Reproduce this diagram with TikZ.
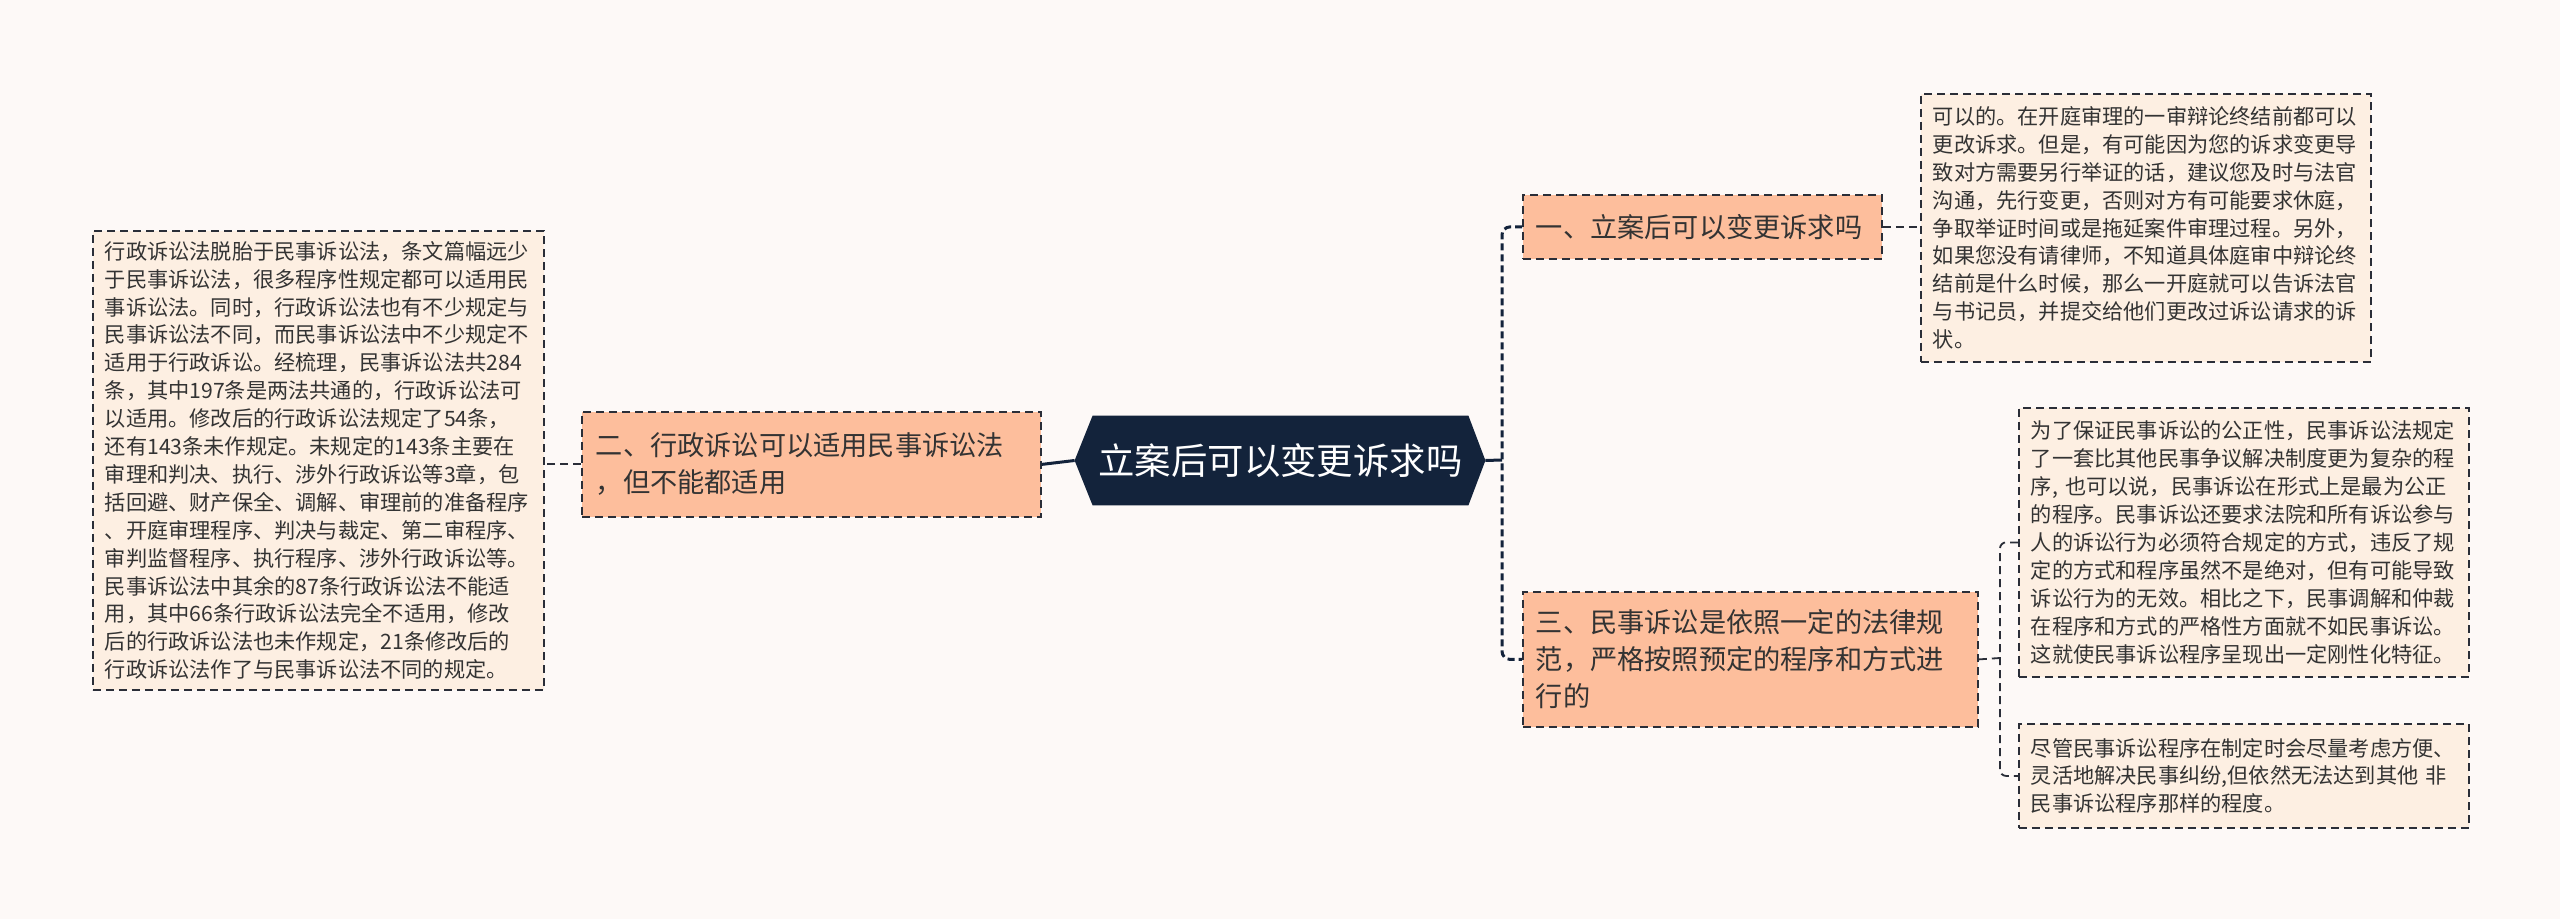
\documentclass[tikz,border=0pt]{standalone}
\usepackage{fontspec}
\setmainfont{Noto Sans CJK SC}
\usetikzlibrary{calc}
\definecolor{bgC}{HTML}{FDF9F7}
\definecolor{peachC}{HTML}{FDBE9C}
\definecolor{boxC}{HTML}{FDEFE2}
\definecolor{lineC}{HTML}{2A2E38}
\definecolor{navyC}{HTML}{13233B}
\definecolor{txtC}{HTML}{333333}
\pgfdeclarelayer{background}
\pgfsetlayers{background,main}
\tikzset{
  x=0.5pt, y=-0.5pt,
  tbox/.style={rectangle, draw=lineC, dash pattern=on 4pt off 2.5pt, line width=0.9pt,
    fill=boxC, text=txtC, font=\fontsize{10.6pt}{13.95pt}\selectfont, align=left,
    anchor=north west, inner xsep=6pt, inner ysep=0pt},
  topic/.style={rectangle, draw=lineC, dash pattern=on 4pt off 2.5pt, line width=0.9pt,
    fill=peachC, text=txtC, font=\fontsize{13.6pt}{18.6pt}\selectfont, align=left,
    anchor=north west, inner xsep=6.5pt, inner ysep=0pt},
  dconn/.style={draw=lineC, line width=0.9pt, dash pattern=on 4pt off 2.5pt},
  trunk/.style={draw=navyC, line width=1.5pt, dash pattern=on 3.5pt off 2pt},
  sconn/.style={draw=navyC, line width=1.5pt},
}
\begin{document}
\begin{tikzpicture}
\useasboundingbox (0,0) rectangle (2560,919);
\begin{pgfonlayer}{background}
\fill[bgC] (0,0) rectangle (2560,919);
\end{pgfonlayer}

% central node
\node[rectangle, minimum width=187.5pt, minimum height=44.5pt, inner sep=0pt,
  text=white, font=\fontsize{18.2pt}{22pt}\selectfont] (c) at (1280.5,460.5) {立案后可以变更诉求吗};
\coordinate (cW) at ([xshift=-9pt]c.west);
\coordinate (cE) at ([xshift=8.5pt]c.east);
\begin{pgfonlayer}{background}
\fill[navyC] (c.north west) -- (c.north east) -- (cE) -- (c.south east) -- (c.south west) -- (cW) -- cycle;
\end{pgfonlayer}

% left side
\node[topic, text width=215.5pt, minimum height=52.5pt, inner xsep=7pt] (n2) at (581,411)
 {二、行政诉讼可以适用民事诉讼法\\，但不能都适用};
\node[tbox, text width=213.5pt, minimum height=229.5pt] (tl) at (92,230)
 {行政诉讼法脱胎于民事诉讼法，条文篇幅远少\\
于民事诉讼法，很多程序性规定都可以适用民\\
事诉讼法。同时，行政诉讼法也有不少规定与\\
民事诉讼法不同，而民事诉讼法中不少规定不\\
适用于行政诉讼。经梳理，民事诉讼法共284\\
条，其中197条是两法共通的，行政诉讼法可\\
以适用。修改后的行政诉讼法规定了54条，\\
还有143条未作规定。未规定的143条主要在\\
审理和判决、执行、涉外行政诉讼等3章，包\\
括回避、财产保全、调解、审理前的准备程序\\
、开庭审理程序、判决与裁定、第二审程序、\\
审判监督程序、执行程序、涉外行政诉讼等。\\
民事诉讼法中其余的87条行政诉讼法不能适\\
用，其中66条行政诉讼法完全不适用，修改\\
后的行政诉讼法也未作规定，21条修改后的\\
行政诉讼法作了与民事诉讼法不同的规定。};

% right side
\node[topic, text width=166.5pt, minimum height=32pt] (n1) at (1522,194)
 {一、立案后可以变更诉求吗};
\node[topic, text width=214.5pt, minimum height=67.5pt] (n3) at (1522,591)
 {三、民事诉讼是依照一定的法律规\\范，严格按照预定的程序和方式进\\行的};
\node[tbox, text width=213pt, minimum height=134pt] (t1) at (1920,93)
 {可以的。在开庭审理的一审辩论终结前都可以\\
更改诉求。但是，有可能因为您的诉求变更导\\
致对方需要另行举证的话，建议您及时与法官\\
沟通，先行变更，否则对方有可能要求休庭，\\
争取举证时间或是拖延案件审理过程。另外，\\
如果您没有请律师，不知道具体庭审中辩论终\\
结前是什么时候，那么一开庭就可以告诉法官\\
与书记员，并提交给他们更改过诉讼请求的诉\\
状。};
\node[tbox, text width=213pt, minimum height=134.5pt] (t3a) at (2018,407)
 {为了保证民事诉讼的公正性，民事诉讼法规定\\
了一套比其他民事争议解决制度更为复杂的程\\
序, 也可以说，民事诉讼在形式上是最为公正\\
的程序。民事诉讼还要求法院和所有诉讼参与\\
人的诉讼行为必须符合规定的方式，违反了规\\
定的方式和程序虽然不是绝对，但有可能导致\\
诉讼行为的无效。相比之下，民事调解和仲裁\\
在程序和方式的严格性方面就不如民事诉讼。\\
这就使民事诉讼程序呈现出一定刚性化特征。};
\node[tbox, text width=213pt, minimum height=52pt] (t3b) at (2018,723)
 {尽管民事诉讼程序在制定时会尽量考虑方便、\\
灵活地解决民事纠纷,但依然无法达到其他 非\\
民事诉讼程序那样的程度。};

% connectors
\coordinate (j) at (1502,460);
\coordinate (k) at (2000,658);
\draw[sconn] (cW) -- (n2.east);
\draw[dconn] (n2.west) -- (n2.west -| tl.east);
\draw[sconn] (cE) -- (j);
\draw[trunk, rounded corners=4pt] (n1.west) -| (j) |- (n3.west);
\draw[dconn] (n1.east) -- (n1.east -| t1.west);
\draw[dconn] (n3.east) -- (k);
\draw[dconn, rounded corners=3pt] (t3a.west) -| (k) |- (t3b.west);
\end{tikzpicture}
\end{document}
